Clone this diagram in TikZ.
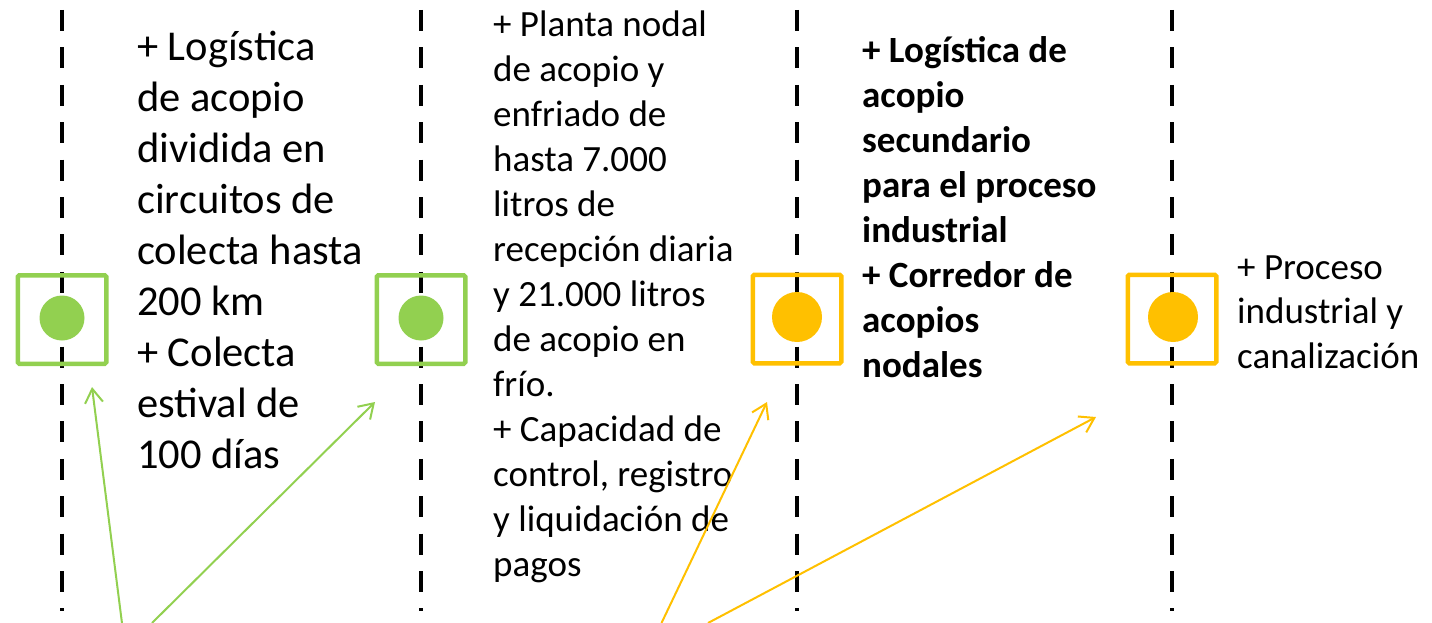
\documentclass[tikz,border=0pt]{standalone}
\usepackage{fontspec}
\setmainfont{Carlito}
\usetikzlibrary{arrows.meta}
\definecolor{lgreen}{HTML}{92D050}
\definecolor{lorange}{HTML}{FFC000}
\tikzset{
  timeline/.style={line width=4.6pt, dash pattern=on 21pt off 16.4pt, black},
  stagebox/.style={draw, line width=4.5pt, rounded corners=1.5pt, minimum size=88.5pt, inner sep=0pt},
  stagedot/.style={circle, inner sep=0pt},
  conn/.style={line width=2pt, -{Straight Barb[length=14pt,width=18pt,line width=2pt]}},
  col/.style={anchor=base west, inner sep=0pt, text=black}
}
\newcommand{\colbox}[4]{\parbox[t]{#1}{\raggedright\fontsize{#2}{#3}\selectfont #4}}
\begin{document}
\begin{tikzpicture}[x=1pt,y=-1pt]
\useasboundingbox (0,0) rectangle (1432,623);
% timelines
\coordinate (t1) at (62,10);   \coordinate (b1) at (62,611);
\coordinate (t2) at (421,10);  \coordinate (b2) at (421,611);
\coordinate (t3) at (797,10);  \coordinate (b3) at (797,611);
\coordinate (t4) at (1172,10); \coordinate (b4) at (1172,611);
\draw[timeline] (t1) -- (b1);
\draw[timeline] (t2) -- (b2);
\draw[timeline] (t3) -- (b3);
\draw[timeline] (t4) -- (b4);
% boxes
\node[stagebox, draw=lgreen] (s1) at (62,319.5) {};
\node[stagebox, draw=lgreen] (s2) at (421,319.5) {};
\node[stagebox, draw=lorange] (s3) at (797,319) {};
\node[stagebox, draw=lorange] (s4) at (1172,319) {};
\node[stagedot, fill=lgreen, minimum size=45pt] (d1) at (62,318) {};
\node[stagedot, fill=lgreen, minimum size=45pt] (d2) at (421,318) {};
\node[stagedot, fill=lorange, minimum size=50pt] (d3) at (797,317) {};
\node[stagedot, fill=lorange, minimum size=50pt] (d4) at (1173,317) {};
% texts
\node[col] (c1) at (137,61) {\colbox{320pt}{42.5}{50.9}{+ Logística\\de acopio\\dividida en\\circuitos de\\colecta hasta\\200 km\\+ Colecta\\estival de\\100 días}};
\node[col] (c2) at (493,37) {\colbox{320pt}{37}{45}{+ Planta nodal\\de acopio y\\enfriado de\\hasta 7.000\\litros de\\recepción diaria\\y 21.000 litros\\de acopio en\\frío.\\+ Capacidad de\\control, registro\\y liquidación de\\pagos}};
\node[col] (c3) at (862,63) {\colbox{320pt}{37}{45}{\bfseries + Logística de\\acopio\\secundario\\para el proceso\\industrial\\+ Corredor de\\acopios\\nodales}};
\node[col] (c4) at (1237,279) {\colbox{220pt}{37}{44.5}{+ Proceso\\industrial y\\canalización}};
% connectors
\coordinate (g1s) at (122.1,624);
\coordinate (g1e) at (92,387);
\coordinate (g2s) at (152,623);
\coordinate (g2e) at (375,402);
\coordinate (o1s) at (661.5,623);
\coordinate (o1e) at (767,402);
\coordinate (o2s) at (708,623);
\coordinate (o2e) at (1096,417);
\draw[conn, lgreen] (g1s) -- (g1e);
\draw[conn, lgreen] (g2s) -- (g2e);
\draw[conn, lorange] (o1s) -- (o1e);
\draw[conn, lorange] (o2s) -- (o2e);
\end{tikzpicture}
\end{document}
